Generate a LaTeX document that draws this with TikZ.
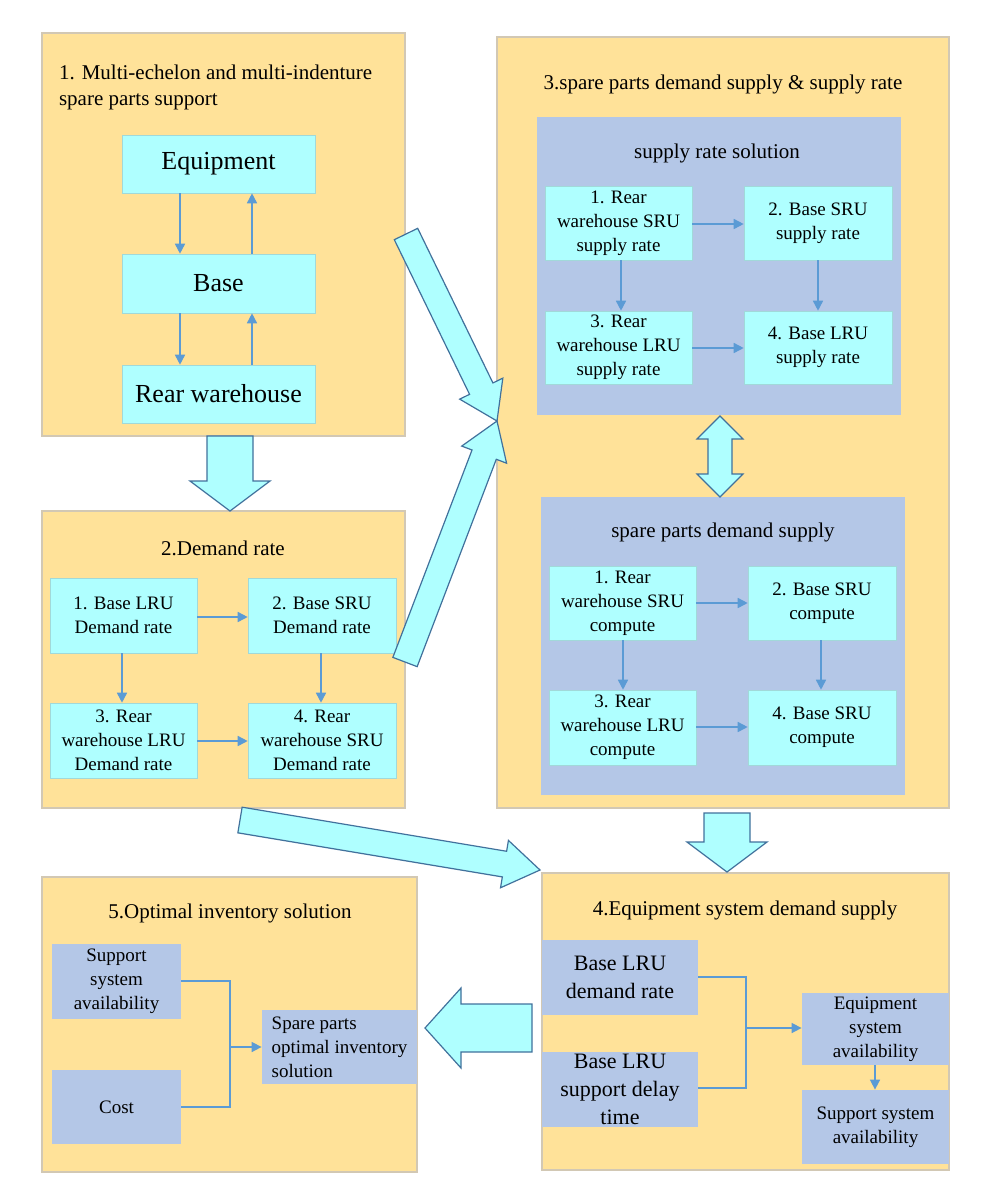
\documentclass[tikz,border=0pt]{standalone}
\usepackage{fontspec}
\setmainfont{Liberation Serif}
\usetikzlibrary{calc,arrows.meta}
\definecolor{panelc}{RGB}{255,226,153}
\definecolor{panelb}{RGB}{210,200,180}
\definecolor{innerc}{RGB}{180,199,231}
\definecolor{cyanc}{RGB}{175,255,255}
\definecolor{linec}{RGB}{91,155,213}
\definecolor{bigb}{RGB}{65,113,156}
\tikzset{
  panel/.style={fill=panelc,draw=panelb,line width=0.6pt},
  inner/.style={fill=innerc,draw=none},
  cbox/.style={fill=cyanc,draw=cyanc!70!gray,line width=0.3pt,align=center,inner sep=1pt},
  gbox/.style={fill=innerc,draw=none,align=center,inner sep=1pt},
  ttl/.style={font=\fontsize{10.5}{13}\selectfont,align=left},
  small/.style={font=\fontsize{9.5}{12}\selectfont},
  flow/.style={draw=linec,line width=0.8pt,-{Triangle[length=5pt,width=5pt]}},
  link/.style={draw=linec,line width=0.8pt},
  barrow/.style={fill=cyanc,draw=bigb,line width=0.6pt,line join=miter}
}
% box from corner to corner
\newcommand{\blk}[7]{\node[#6,minimum width={(#4-#2)*0.5pt},minimum height={(#5-#3)*0.5pt}] (#1) at ({(#2+#4)/2},{(#3+#5)/2}) {#7};}
% broad arrow from a to b
\newcommand{\broad}[5]{\coordinate (h) at ($(#2)!#5!(#1)$);
  \draw[barrow] ($(#1)!#3!90:(#2)$) -- ($(h)!#3!-90:(#1)$) -- ($(h)!#4!-90:(#1)$) -- (#2) -- ($(h)!#4!90:(#1)$) -- ($(h)!#3!90:(#1)$) -- ($(#1)!#3!-90:(#2)$) -- cycle;}

\begin{document}
\begin{tikzpicture}[x=0.5pt,y=-0.5pt]
\useasboundingbox (0,0) rectangle (994,1200);
% panels
\draw[panel] (42,33) rectangle (405,436);
\draw[panel] (42,511) rectangle (405,808);
\draw[panel] (497,37) rectangle (949,808);
\draw[panel] (542,873) rectangle (949,1170);
\draw[panel] (42,877) rectangle (417,1172);
\draw[inner] (537,117) rectangle (901,415);
\draw[inner] (541,497) rectangle (905,795);
% titles
\node[ttl,anchor=west] at (52,87) {1. Multi-echelon and multi-indenture\\spare parts support};
\node[ttl] at (223,548) {2.Demand rate};
\node[ttl] at (723,84) {3.spare parts demand supply \& supply rate};
\node[ttl] at (717,153) {supply rate solution};
\node[ttl] at (723,532) {spare parts demand supply};
\node[ttl] at (745,910) {4.Equipment system demand supply};
\node[ttl] at (230,913) {5.Optimal inventory solution};

% panel 1
\blk{equip}{122}{135}{315}{193}{cbox,font=\fontsize{13}{15}\selectfont}{Equipment}
\blk{base}{122}{254}{315}{313}{cbox,font=\fontsize{13}{15}\selectfont}{Base}
\blk{rear}{122}{365}{315}{423}{cbox,font=\fontsize{13}{15}\selectfont}{Rear warehouse}
\draw[flow] (equip.south-|180,0) -- (base.north-|180,0);
\draw[flow] (base.north-|252,0) -- (equip.south-|252,0);
\draw[flow] (base.south-|180,0) -- (rear.north-|180,0);
\draw[flow] (rear.north-|252,0) -- (base.south-|252,0);

% panel 2
\blk{dA}{50}{578}{197}{653}{cbox,small}{1. Base LRU\\Demand rate}
\blk{dB}{248}{578}{396}{653}{cbox,small}{2. Base SRU\\Demand rate}
\blk{dC}{50}{703}{197}{778}{cbox,small}{3. Rear\\warehouse LRU\\Demand rate}
\blk{dD}{248}{703}{396}{778}{cbox,small}{4. Rear\\warehouse SRU\\Demand rate}
\draw[flow] (dA.east|-0,617) -- (dB.west|-0,617);
\draw[flow] (dA.south-|122,0) -- (dC.north-|122,0);
\draw[flow] (dB.south-|321,0) -- (dD.north-|321,0);
\draw[flow] (dC.east|-0,741) -- (dD.west|-0,741);

% panel 3, supply rate
\blk{sA}{545}{186}{692}{260}{cbox,small}{1. Rear\\warehouse SRU\\supply rate}
\blk{sB}{744}{186}{892}{260}{cbox,small}{2. Base SRU\\supply rate}
\blk{sC}{545}{311}{692}{384}{cbox,small}{3. Rear\\warehouse LRU\\supply rate}
\blk{sD}{744}{311}{892}{384}{cbox,small}{4. Base LRU\\supply rate}
\draw[flow] (sA.east|-0,224) -- (sB.west|-0,224);
\draw[flow] (sA.south-|621,0) -- (sC.north-|621,0);
\draw[flow] (sB.south-|818,0) -- (sD.north-|818,0);
\draw[flow] (sC.east|-0,348) -- (sD.west|-0,348);

% panel 3, demand supply
\blk{cA}{549}{566}{696}{640}{cbox,small}{1. Rear\\warehouse SRU\\compute}
\blk{cB}{748}{566}{896}{640}{cbox,small}{2. Base SRU\\compute}
\blk{cC}{549}{690}{696}{765}{cbox,small}{3. Rear\\warehouse LRU\\compute}
\blk{cD}{748}{690}{896}{765}{cbox,small}{4. Base SRU\\compute}
\draw[flow] (cA.east|-0,603) -- (cB.west|-0,603);
\draw[flow] (cA.south-|623,0) -- (cC.north-|623,0);
\draw[flow] (cB.south-|821,0) -- (cD.north-|821,0);
\draw[flow] (cC.east|-0,727) -- (cD.west|-0,727);

% panel 4
\blk{lA}{542}{940}{698}{1015}{gbox,font=\fontsize{11}{14}\selectfont}{Base LRU\\demand rate}
\blk{lB}{542}{1052}{698}{1127}{gbox,font=\fontsize{11}{14}\selectfont}{Base LRU\\support delay\\time}
\blk{eA}{802}{993}{949}{1065}{gbox,small}{Equipment\\system\\availability}
\blk{eB}{802}{1090}{949}{1164}{gbox,small}{Support system\\availability}
\draw[link] (lA.east|-0,977) -- (746,977) -- (746,1088) -- (lB.east|-0,1088);
\draw[flow] (746,1028) -- (eA.west|-0,1028);
\draw[flow] (eA.south-|875,0) -- (eB.north-|875,0);

% panel 5
\blk{oA}{52}{944}{181}{1019}{gbox,small}{Support\\system\\availability}
\blk{oB}{52}{1070}{181}{1144}{gbox,small}{Cost}
\blk{oC}{262}{1010}{417}{1084}{gbox,small,align=left}{Spare parts\\optimal inventory\\solution}
\draw[link] (oA.east|-0,981) -- (230,981) -- (230,1107) -- (oB.east|-0,1107);
\draw[flow] (230,1047) -- (oC.west|-0,1047);

% broad arrows
\coordinate (p1s) at (230,436); \coordinate (p1e) at (230,511);
\broad{p1s}{p1e}{11.5pt}{20pt}{15pt}
\coordinate (p3s) at (727,813); \coordinate (p3e) at (727,872);
\broad{p3s}{p3e}{11.5pt}{20pt}{15pt}
\coordinate (p4s) at (532,1028); \coordinate (p4e) at (425,1028);
\broad{p4s}{p4e}{12pt}{20pt}{18pt}
\coordinate (tip) at (497,421);
\coordinate (d1s) at (406,234); \broad{d1s}{tip}{6.5pt}{12pt}{18pt}
\coordinate (d2s) at (405,662); \broad{d2s}{tip}{6.5pt}{12pt}{18pt}
\coordinate (d3s) at (240,820); \coordinate (d3e) at (540,870);
\broad{d3s}{d3e}{6.5pt}{12pt}{18pt}
% double arrow between the two solution blocks
\draw[barrow] (708,439) -- (697,439) -- (720,416) -- (743,439) -- (732,439) -- (732,474)
  -- (743,474) -- (720,497) -- (697,474) -- (708,474) -- cycle;
\end{tikzpicture}
\end{document}
